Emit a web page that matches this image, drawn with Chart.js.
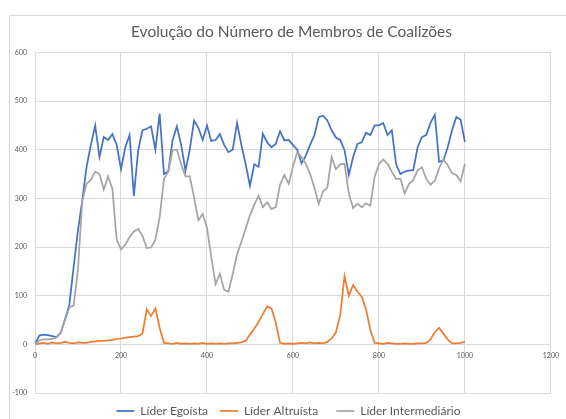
<!DOCTYPE html>
<html>
<head>
<meta charset="utf-8">
<script src="https://cdn.jsdelivr.net/npm/chart.js@4.4.1/dist/chart.umd.min.js"></script>
<style>
  html, body { margin: 0; padding: 0; background: #fff; overflow: hidden; }
  #wrap { position: relative; width: 566px; height: 419px; }
  #frame { position: absolute; left: 9px; top: 15px; width: 600px; height: 500px; border: 1px solid #d9d9d9; box-sizing: border-box; }
  canvas { position: absolute; left: 0; top: 0; }
</style>
</head>
<body>
<div id="wrap">
  <div id="frame"></div>
  <canvas id="coalChart" width="566" height="419"></canvas>
</div>
<script>
// passos da simulação (0..1000 de 10 em 10)
const passos = Array.from({ length: 101 }, (_, i) => i * 10);

const liderEgoista = [
    0, 18, 20, 19, 17, 15, 24, 52, 82, 160,
    235, 296, 365, 410, 450, 385, 426, 420, 432, 410,
    360, 405, 430, 305, 399, 440, 443, 448, 400, 474,
    350, 355, 419, 448, 410, 357, 400, 460, 445, 420,
    450, 418, 420, 432, 410, 395, 400, 455, 410, 370,
    326, 370, 365, 433, 415, 405, 412, 438, 419, 420,
    410, 400, 372, 388, 410, 430, 467, 470, 460, 440,
    425, 420, 399, 348, 385, 412, 415, 435, 430, 450,
    450, 455, 430, 440, 370, 350, 355, 357, 358, 405,
    426, 430, 455, 472, 375, 378, 405, 440, 467, 462,
    416
];

const liderAltruista = [
    0, 2, 3, 1, 4, 2, 3, 5, 3, 2,
    4, 3, 3, 5, 6, 7, 7, 8, 9, 11,
    12, 14, 15, 16, 17, 22, 72, 58, 74, 34,
    3, 2, 1, 3, 1, 2, 1, 2, 1, 3,
    1, 2, 1, 2, 1, 2, 2, 3, 4, 7,
    20, 32, 46, 62, 78, 74, 45, 3, 1, 2,
    1, 2, 3, 2, 4, 2, 3, 2, 5, 12,
    25, 60, 140, 100, 122, 108, 98, 72, 30, 3,
    2, 1, 3, 2, 1, 1, 2, 1, 1, 2,
    2, 3, 10, 25, 34, 22, 10, 2, 2, 3,
    5
];

const liderIntermediario = [
    0, 8, 10, 10, 11, 14, 24, 50, 76, 80,
    155, 295, 330, 338, 355, 350, 318, 345, 320, 215,
    195, 205, 220, 232, 237, 223, 198, 199, 215, 261,
    340, 355, 399, 400, 370, 345, 345, 302, 255, 268,
    240, 180, 124, 145, 112, 108, 145, 185, 210, 238,
    265, 287, 305, 282, 292, 278, 282, 328, 348, 330,
    365, 395, 385, 371, 350, 322, 289, 314, 322, 385,
    360, 370, 371, 310, 280, 289, 282, 290, 285, 344,
    370, 380, 371, 355, 340, 340, 310, 330, 338, 358,
    364, 340, 328, 336, 362, 380, 368, 352, 348, 335,
    371
];

const cinza = '#595959';
const grelha = '#d9d9d9';

function serie(valores) {
    return passos.map((x, i) => ({ x: x, y: valores[i] }));
}

// deixa os rótulos do eixo y sair para a esquerda da caixa do eixo (sem recorte)
const soltarRotulos = {
    id: 'soltarRotulos',
    afterLayout(chart) {
        chart.scales.y.left = 0;
    }
};

const ctx = document.getElementById('coalChart').getContext('2d');
const coalChart = new Chart(ctx, {
    type: 'line',
    data: {
        datasets: [
            {
                label: 'Líder Egoísta',
                data: serie(liderEgoista),
                borderColor: '#4472C4',
                backgroundColor: '#4472C4',
                borderWidth: 1.75,
                order: 2
            },
            {
                label: 'Líder Altruísta',
                data: serie(liderAltruista),
                borderColor: '#ED7D31',
                backgroundColor: '#ED7D31',
                borderWidth: 1.75,
                order: 1
            },
            {
                label: 'Líder Intermediário',
                data: serie(liderIntermediario),
                borderColor: '#A5A5A5',
                backgroundColor: '#A5A5A5',
                borderWidth: 1.75,
                order: 0
            }
        ]
    },
    plugins: [soltarRotulos],
    options: {
        responsive: false,
        animation: false,
        layout: { padding: { left: 24, right: 7, top: 0, bottom: -8 } },
        elements: {
            point: { radius: 0, pointStyle: 'line' },
            line: { tension: 0 }
        },
        plugins: {
            title: {
                display: true,
                text: 'Evolução do Número de Membros de Coalizões',
                color: cinza,
                font: { family: 'Lato', size: 15.5, weight: 'normal' },
                padding: { top: 23, bottom: 10.8 }
            },
            legend: {
                position: 'bottom',
                labels: {
                    usePointStyle: true,
                    pointStyleWidth: 18,
                    color: cinza,
                    font: { family: 'Lato', size: 12 },
                    padding: 12,
                    sort: (a, b) => a.datasetIndex - b.datasetIndex,
                    generateLabels: (chart) => {
                        const itens = Chart.defaults.plugins.legend.labels.generateLabels(chart);
                        itens.forEach((it, i) => {
                            if (i < itens.length - 1) it.text = it.text + '  ';
                        });
                        return itens;
                    }
                }
            },
            tooltip: { enabled: false }
        },
        scales: {
            x: {
                type: 'linear',
                min: 0,
                max: 1200,
                position: { y: 0 },
                ticks: {
                    stepSize: 200,
                    color: cinza,
                    font: { family: 'Lato', size: 7 },
                    padding: 7,
                    maxRotation: 0,
                    callback: (v) => String(v)
                },
                grid: { color: grelha, drawTicks: false },
                border: { color: grelha }
            },
            y: {
                min: -100,
                max: 600,
                ticks: {
                    stepSize: 100,
                    color: cinza,
                    font: { family: 'Lato', size: 7 },
                    padding: 8
                },
                grid: { color: grelha, drawTicks: false },
                border: { display: false },
                afterFit: (scale) => { scale.width = 11; }
            }
        }
    }
});
</script>
</body>
</html>
